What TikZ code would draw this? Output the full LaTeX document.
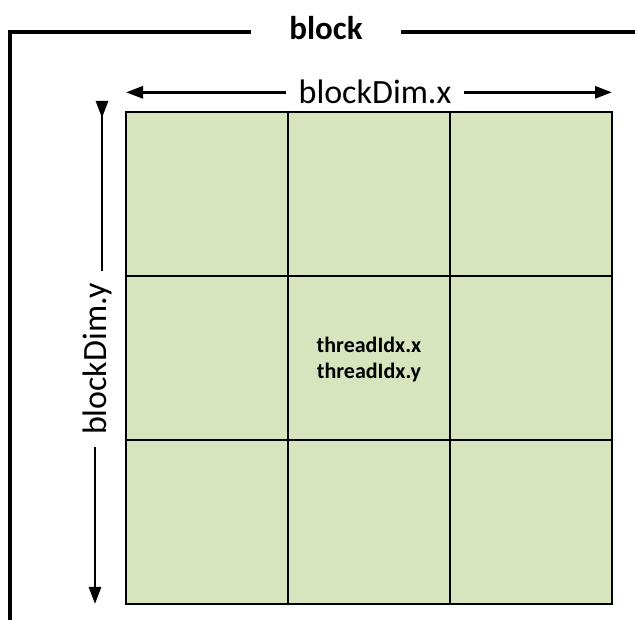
\documentclass[tikz,border=0pt]{standalone}
\usepackage{fontspec}
\setmainfont{Carlito}
\usetikzlibrary{arrows.meta, positioning}
\definecolor{cellgreen}{HTML}{D7E4BD}
\tikzset{
  cell/.style={rectangle, draw=black, line width=1.8pt, fill=cellgreen, minimum width=162pt, minimum height=164pt, inner sep=0pt, outer sep=0pt},
  dimlabel/.style={font=\fontsize{34}{38}\selectfont, inner xsep=12pt, inner ysep=0pt},
  dimarrow/.style={line width=2.8pt, -{Triangle[length=17pt, width=12pt]}},
  frameline/.style={line width=3.5pt},
}
\begin{document}
\begin{tikzpicture}[x=1pt, y=1pt]
  \useasboundingbox (0,0) rectangle (635,620);
  % 3x3 grid of threads
  \foreach \row in {0,1,2}
    \foreach \col in {0,1,2}
      \node[cell] (cell-\row-\col) at ({207+162*\col},{426-164*\row}) {};
  \node[font=\bfseries\fontsize{22}{26}\selectfont, align=center] (thread) at ([yshift=-2pt]cell-1-1) {threadIdx.x\\threadIdx.y};
  % block frame
  \coordinate (frametl) at (10,588);
  \coordinate (framebl) at (10,0);
  \coordinate (frametr) at (635,588);
  \node[font=\bfseries\fontsize{33}{36}\selectfont, inner xsep=38pt, anchor=base] (blocklabel) at (326,580) {block};
  \draw[frameline] (blocklabel.west |- frametl) -- (frametl) -- (framebl);
  \draw[frameline] (blocklabel.east |- frametr) -- (frametr);
  % dimensions
  \node[dimlabel, anchor=base] (dimx) at (375,516) {blockDim.x};
  \draw[dimarrow] (dimx.west) -- (dimx.west -| cell-0-0.west);
  \draw[dimarrow] (dimx.east) -- (dimx.east -| cell-0-2.east);
  \node[dimlabel, rotate=90] (dimy) at (97,261) {blockDim.y};
  \draw[dimarrow] ([xshift=5pt]dimy.east) -- ([xshift=5pt]dimy.east |- cell-0-0.north) -- +(0,-6pt);
  \draw[dimarrow] ([xshift=-2pt]dimy.west) -- ([xshift=-2pt]dimy.west |- cell-2-0.south);
\end{tikzpicture}
\end{document}
